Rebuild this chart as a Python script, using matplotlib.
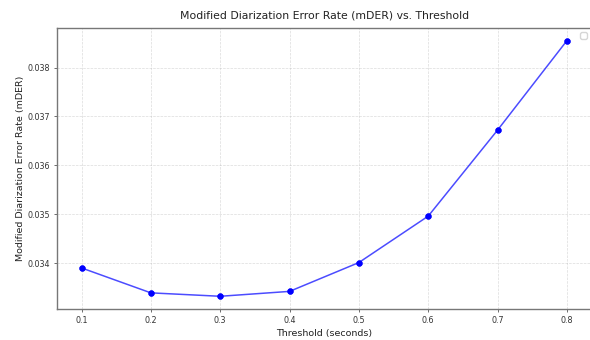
import matplotlib
matplotlib.use("Agg")
import matplotlib.pyplot as plt

thresholds = [0.1, 0.2, 0.3, 0.4, 0.5, 0.6, 0.7, 0.8]
mder = [0.03390, 0.03339, 0.03332, 0.03342, 0.03401, 0.03496, 0.03672, 0.03855]

fig = plt.figure(figsize=(5.9, 3.4), dpi=100)
ax = fig.add_axes([0.097, 0.091, 0.905, 0.827])
ax.plot(thresholds, mder, color="blue", marker="o", markersize=3.5,
        linewidth=1.1, alpha=0.7, markeredgecolor="blue", markerfacecolor="blue")
ax.plot(thresholds, mder, linestyle="none", marker="o", markersize=3.5, color="blue")
ax.set_title("Modified Diarization Error Rate (mDER) vs. Threshold", fontsize=7.8, pad=7, color="#222222")
ax.set_xlabel("Threshold (seconds)", fontsize=6.8, labelpad=3, color="#222222")
ax.set_ylabel("Modified Diarization Error Rate (mDER)", fontsize=6.8, labelpad=2, color="#222222")
ax.tick_params(labelsize=5.8, length=2.5, width=0.6, pad=2.5, color="#555555", labelcolor="#333333")
ax.grid(True, linestyle="--", linewidth=0.5, alpha=0.45)
for s in ax.spines.values():
    s.set_color("#777777")
    s.set_linewidth(1.0)
ax.legend(handles=[], loc="upper right", fontsize=6, handlelength=0.5, borderpad=0.4)
fig.savefig("out.png", dpi=100)
